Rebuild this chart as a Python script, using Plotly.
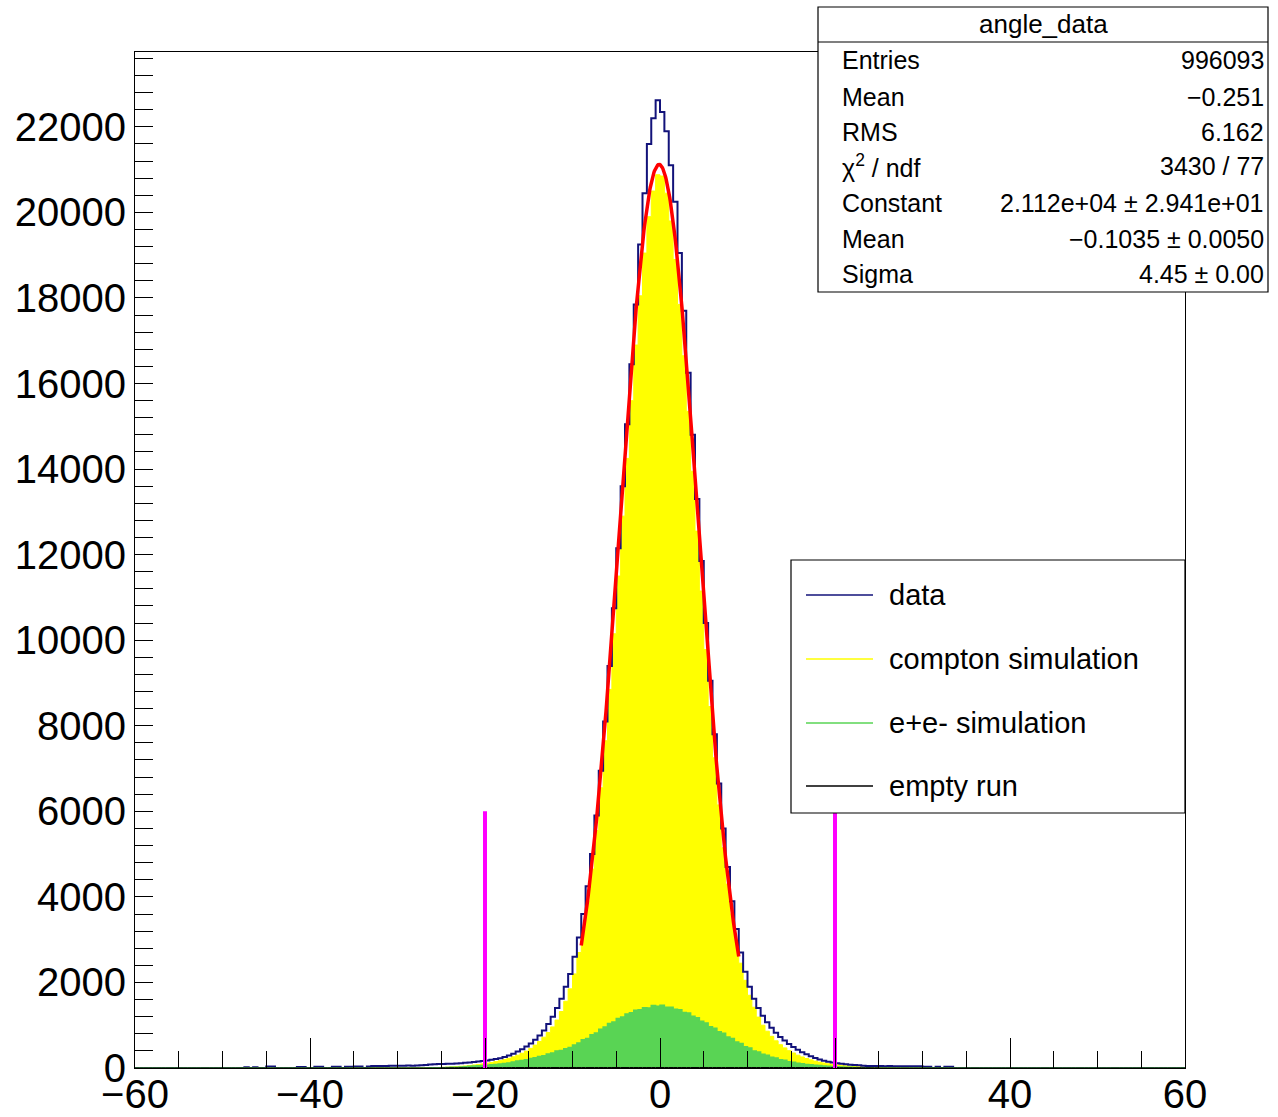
import numpy as np
import plotly.graph_objects as go

# ---------------- data ----------------
BIN_WIDTH = 0.5
X_MIN, X_MAX = -60.0, 60.0
Y_MAX = 23750

# bin contents, bins of 0.5 from -30 to 30 (centres -29.75 ... 29.75)
data_core = [
    55, 55, 58, 55, 60, 62, 70, 82, 88, 92,
    95, 98, 100, 105, 112, 120, 128, 138, 150, 162,
    175, 190, 208, 228, 255, 290, 335, 385, 440, 500,
    575, 660, 760, 875, 1030, 1200, 1400, 1620, 1900, 2200,
    2600, 3050, 3600, 4250, 5000, 5900, 6950, 8100, 9400, 10750,
    12150, 13600, 15050, 16450, 17850, 19250, 20450, 21600, 22200, 22620,
    22350, 21900, 21100, 20250, 19050, 17700, 16250, 14800, 13300, 11850,
    10400, 9050, 7800, 6650, 5600, 4700, 3900, 3250, 2700, 2250,
    1900, 1620, 1400, 1220, 1070, 940, 825, 725, 640, 560,
    490, 425, 370, 320, 275, 235, 200, 172, 148, 128,
    112, 98, 85, 78, 72, 66, 52, 46, 45, 44,
    45, 43, 44, 42, 43, 41, 42, 40, 41, 40,
]
# outer tails of the data, bins of 0.5 from -60 to -30 and from 30 to 60
data_left_tail = [
    0, 0, 0, 0, 0, 0, 0, 0, 0, 0,
    0, 0, 0, 0, 0, 0, 0, 0, 0, 0,
    0, 0, 0, 0, 0, 20, 0, 20, 0, 0,
    35, 35, 0, 0, 0, 0, 0, 25, 25, 0,
    0, 30, 30, 0, 0, 30, 30, 0, 30, 30,
    35, 35, 0, 35, 45, 45, 45, 45, 50, 50,
]
data_right_tail = [
    30, 30, 0, 30, 0, 30, 30, 0, 0, 0,
    0, 0, 0, 0, 0, 0, 0, 0, 0, 0,
    0, 0, 0, 0, 0, 0, 0, 0, 0, 0,
    0, 0, 0, 0, 0, 0, 0, 0, 0, 0,
    0, 0, 0, 0, 0, 0, 0, 0, 0, 0,
    0, 0, 0, 0, 0, 0, 0, 0, 0, 0,
]
compton_core = [
    0, 0, 0, 0, 2, 3, 4, 6, 8, 12,
    16, 20, 26, 32, 40, 48, 58, 70, 82, 96,
    112, 130, 150, 172, 198, 228, 262, 300, 345, 395,
    460, 535, 620, 720, 830, 960, 1120, 1320, 1560, 1850,
    2200, 2700, 3250, 3900, 4650, 5550, 6550, 7650, 8850, 10150,
    11500, 12900, 14250, 15600, 16900, 18050, 19050, 19900, 20500, 20880,
    20850, 20450, 19800, 18900, 17850, 16650, 15350, 13950, 12550, 11150,
    9780, 8450, 7250, 6150, 5150, 4300, 3600, 2950, 2450, 2050,
    1700, 1420, 1190, 1000, 860, 740, 635, 545, 470, 405,
    350, 300, 258, 222, 190, 162, 138, 118, 100, 85,
    72, 60, 50, 42, 35, 28, 22, 17, 12, 8,
    6, 4, 3, 2, 0, 0, 0, 0, 0, 0,
]
eplus_core = [
    0, 0, 0, 0, 0, 0, 2, 3, 5, 6,
    8, 12, 15, 20, 25, 32, 40, 45, 52, 58,
    66, 75, 84, 95, 108, 118, 140, 165, 178, 195,
    220, 238, 270, 285, 325, 350, 395, 410, 450, 480,
    540, 585, 660, 690, 775, 820, 905, 960, 1040, 1075,
    1160, 1190, 1260, 1290, 1350, 1360, 1410, 1405, 1460, 1445,
    1465, 1420, 1420, 1375, 1360, 1300, 1285, 1210, 1175, 1090,
    1050, 965, 930, 850, 810, 725, 690, 610, 570, 495,
    465, 400, 375, 320, 300, 250, 235, 195, 180, 145,
    135, 110, 102, 82, 76, 62, 56, 46, 42, 35,
    30, 24, 20, 15, 12, 8, 6, 4, 2, 0,
    0, 0, 0, 0, 0, 0, 0, 0, 0, 0,
]
empty_core = [
    0, 0, 0, 0, 0, 0, 0, 0, 0, 0,
    5, 5, 6, 6, 7, 7, 8, 8, 8, 9,
    9, 9, 10, 10, 10, 10, 11, 11, 11, 11,
    12, 12, 12, 12, 12, 12, 12, 12, 12, 12,
    12, 12, 12, 12, 12, 12, 12, 12, 12, 12,
    12, 12, 12, 12, 12, 12, 12, 12, 12, 12,
    12, 12, 12, 12, 12, 12, 12, 12, 12, 12,
    12, 12, 12, 12, 12, 12, 12, 12, 12, 12,
    12, 12, 12, 12, 12, 12, 12, 12, 12, 12,
    11, 11, 11, 11, 10, 10, 10, 10, 9, 9,
    9, 8, 8, 8, 7, 7, 6, 6, 5, 5,
    0, 0, 0, 0, 0, 0, 0, 0, 0, 0,
]

# gaussian fit (parameters from the stats box)
FIT_CONSTANT = 2.112e4
FIT_MEAN = -0.1035
FIT_SIGMA = 4.45
FIT_RANGE = (-9.0, 9.0)

CUT_POSITIONS = [-20, 20]
CUT_HEIGHT = 6000

STATS_TITLE = "angle_data"
STATS_LABELS = ["Entries", "Mean", "RMS", "\u03c7<sup>2</sup> / ndf", "Constant", "Mean", "Sigma"]
STATS_VALUES = ["996093", "\u22120.251", "6.162", "3430 / 77",
                "2.112e+04 \u00b1 2.941e+01", "\u22120.1035 \u00b1 0.0050", "4.45 \u00b1 0.00"]

LEGEND_LABELS = ["data", "compton simulation", "e+e- simulation", "empty run"]

# ---------------- colours ----------------
C_DATA = "#12127a"
C_COMPTON = "#ffff00"
C_EPLUS = "#59d454"
C_EMPTY = "#000000"
C_FIT = "#ff0000"
C_CUT = "#ff00ff"
LEGEND_COLORS = [C_DATA, C_COMPTON, C_EPLUS, C_EMPTY]

FONT = "Liberation Sans, Arial, Helvetica, sans-serif"

# ---------------- build full histograms ----------------
n_side = len(data_left_tail)
zeros_side = [0] * n_side
data_full = data_left_tail + data_core + data_right_tail
compton_full = zeros_side + compton_core + zeros_side
eplus_full = zeros_side + eplus_core + zeros_side
empty_full = zeros_side + empty_core + zeros_side
n_bins = len(data_full)
edges = X_MIN + BIN_WIDTH * np.arange(n_bins + 1)


def step_xy(vals):
    return edges, list(vals) + [vals[-1]]


fig = go.Figure()

x, y = step_xy(compton_full)
fig.add_trace(go.Scatter(x=x, y=y, mode="lines", line=dict(color=C_COMPTON, width=1, shape="hv"),
                         fill="tozeroy", fillcolor=C_COMPTON, hoverinfo="skip"))
x, y = step_xy(data_full)
fig.add_trace(go.Scatter(x=x, y=y, mode="lines", line=dict(color=C_DATA, width=2, shape="hv"),
                         hoverinfo="skip"))
x, y = step_xy(eplus_full)
fig.add_trace(go.Scatter(x=x, y=y, mode="lines", line=dict(color=C_EPLUS, width=1.5, shape="hv"),
                         fill="tozeroy", fillcolor=C_EPLUS, hoverinfo="skip"))
x, y = step_xy(empty_full)
fig.add_trace(go.Scatter(x=x, y=y, mode="lines", line=dict(color=C_EMPTY, width=1, shape="hv"),
                         hoverinfo="skip"))

xf = np.linspace(FIT_RANGE[0], FIT_RANGE[1], 300)
yf = FIT_CONSTANT * np.exp(-0.5 * ((xf - FIT_MEAN) / FIT_SIGMA) ** 2)
fig.add_trace(go.Scatter(x=xf, y=yf, mode="lines", line=dict(color=C_FIT, width=3.5), hoverinfo="skip"))

for cx in CUT_POSITIONS:
    fig.add_trace(go.Scatter(x=[cx, cx], y=[0, CUT_HEIGHT], mode="lines",
                             line=dict(color=C_CUT, width=4), hoverinfo="skip"))

# ---------------- layout ----------------
W, H = 1278, 1117
L, R, T, B = 135, 1185, 52, 1068


def px(xp):
    return (xp - L) / (R - L)


def py(yp):
    return (B - yp) / (B - T)


fig.update_layout(
    width=W, height=H,
    margin=dict(l=L, r=W - R, t=T, b=H - B, pad=0, autoexpand=False),
    paper_bgcolor="white", plot_bgcolor="white",
    showlegend=False,
    font=dict(family=FONT, color="black"),
)
fig.update_xaxes(
    range=[X_MIN, X_MAX], tick0=-60, dtick=20, ticks="inside", ticklen=30, tickwidth=1,
    tickcolor="black", showline=True, linecolor="black", linewidth=1, mirror=True,
    showgrid=False, zeroline=False, automargin=False, ticklabelstandoff=-9,
    tickfont=dict(size=40, family=FONT, color="black"),
    minor=dict(dtick=5, ticks="inside", ticklen=17, tickwidth=1, tickcolor="black", showgrid=False),
)
fig.update_yaxes(
    range=[0, Y_MAX], tick0=0, dtick=2000, ticks="inside", ticklen=18, tickwidth=1,
    tickcolor="black", showline=True, linecolor="black", linewidth=1, mirror=True,
    showgrid=False, zeroline=False, automargin=False, tickformat="d",
    tickfont=dict(size=40, family=FONT, color="black"),
    minor=dict(dtick=400, ticks="inside", ticklen=18, tickwidth=1, tickcolor="black", showgrid=False),
)

shapes = []
annotations = []

# stats box
SB_X0, SB_X1, SB_Y0, SB_Y1, SB_SEP = 818, 1268, 7, 292, 42
shapes.append(dict(type="rect", xref="paper", yref="paper", x0=px(SB_X0), x1=px(SB_X1),
                   y0=py(SB_Y1), y1=py(SB_Y0), fillcolor="white",
                   line=dict(color="black", width=1.2), layer="above"))
shapes.append(dict(type="line", xref="paper", yref="paper", x0=px(SB_X0), x1=px(SB_X1),
                   y0=py(SB_SEP), y1=py(SB_SEP), line=dict(color="black", width=1.2), layer="above"))
annotations.append(dict(xref="paper", yref="paper", x=px((SB_X0 + SB_X1) / 2), y=py(24),
                        text=STATS_TITLE, showarrow=False, xanchor="center", yanchor="middle",
                        font=dict(size=26, family=FONT, color="black")))
row_y = [60, 97, 132, 166, 203, 239, 274]
for lab, val, ry in zip(STATS_LABELS, STATS_VALUES, row_y):
    annotations.append(dict(xref="paper", yref="paper", x=px(840), y=py(ry), text=lab,
                            showarrow=False, xanchor="left", yanchor="middle",
                            font=dict(size=25, family=FONT, color="black")))
    annotations.append(dict(xref="paper", yref="paper", x=px(1266), y=py(ry), text=val,
                            showarrow=False, xanchor="right", yanchor="middle",
                            font=dict(size=25, family=FONT, color="black")))

# legend box
LG_X0, LG_X1, LG_Y0, LG_Y1 = 791, 1185, 560, 813
shapes.append(dict(type="rect", xref="paper", yref="paper", x0=px(LG_X0), x1=px(LG_X1),
                   y0=py(LG_Y1), y1=py(LG_Y0), fillcolor="white",
                   line=dict(color="black", width=1.2), layer="above"))
leg_y = [595, 659, 723, 786]
for lab, col, ly in zip(LEGEND_LABELS, LEGEND_COLORS, leg_y):
    shapes.append(dict(type="line", xref="paper", yref="paper", x0=px(806), x1=px(873),
                       y0=py(ly), y1=py(ly), line=dict(color=col, width=1.5), layer="above"))
    annotations.append(dict(xref="paper", yref="paper", x=px(887), y=py(ly), text=lab,
                            showarrow=False, xanchor="left", yanchor="middle",
                            font=dict(size=29, family=FONT, color="black")))

fig.update_layout(shapes=shapes, annotations=annotations)

fig.write_html("out.html", config={"displayModeBar": False})

# remove the default page margin so the figure sits at the window's top-left corner
with open("out.html", "r", encoding="utf-8") as fh:
    html = fh.read()
html = html.replace("<head>", "<head><style>html,body{margin:0;padding:0;overflow:hidden;}</style>", 1)
with open("out.html", "w", encoding="utf-8") as fh:
    fh.write(html)
